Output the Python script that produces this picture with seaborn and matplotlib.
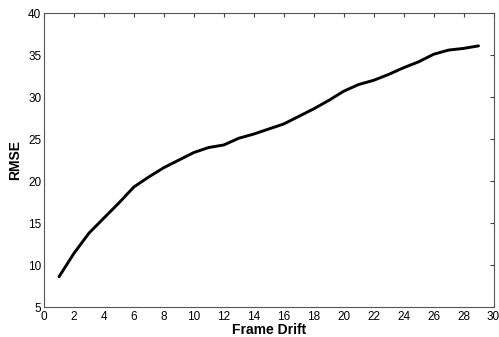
import matplotlib
matplotlib.use("Agg")
import matplotlib.pyplot as plt
import seaborn as sns
import pandas as pd

frame_drift = list(range(1, 30))
rmse = [8.6, 11.4, 13.8, 15.6, 17.4, 19.3, 20.5, 21.6, 22.5, 23.4,
        24.0, 24.3, 25.1, 25.6, 26.2, 26.8, 27.7, 28.6, 29.6, 30.7,
        31.5, 32.0, 32.7, 33.5, 34.2, 35.1, 35.6, 35.8, 36.1]
x_ticks = list(range(0, 31, 2))
y_ticks = list(range(5, 41, 5))

sns.set_style("white")
plt.rcParams['font.family'] = ['Liberation Sans', 'DejaVu Sans']

df = pd.DataFrame({"Frame Drift": frame_drift, "RMSE": rmse})

fig = plt.figure(figsize=(4.99, 3.37), dpi=100)
ax = fig.add_axes([0.0882, 0.089, 0.9008, 0.872])
sns.lineplot(data=df, x="Frame Drift", y="RMSE", ax=ax, color="black", linewidth=2.1)

ax.set_xlim(0, 30)
ax.set_ylim(5, 40)
ax.set_xticks(x_ticks)
ax.set_yticks(y_ticks)
ax.tick_params(direction="in", length=3, width=0.8, colors="#444444",
               labelcolor="black", labelsize=8.5, top=True, right=True,
               pad=2)
ax.tick_params(axis='x', pad=3)
for s in ax.spines.values():
    s.set_visible(True)
    s.set_color("#555555")
    s.set_linewidth(0.8)
ax.set_xlabel("Frame Drift", fontsize=10, fontweight="bold", labelpad=0, color="black")
ax.set_ylabel("RMSE", fontsize=10, fontweight="bold", labelpad=4, color="black")

fig.savefig("out.png", dpi=100)
